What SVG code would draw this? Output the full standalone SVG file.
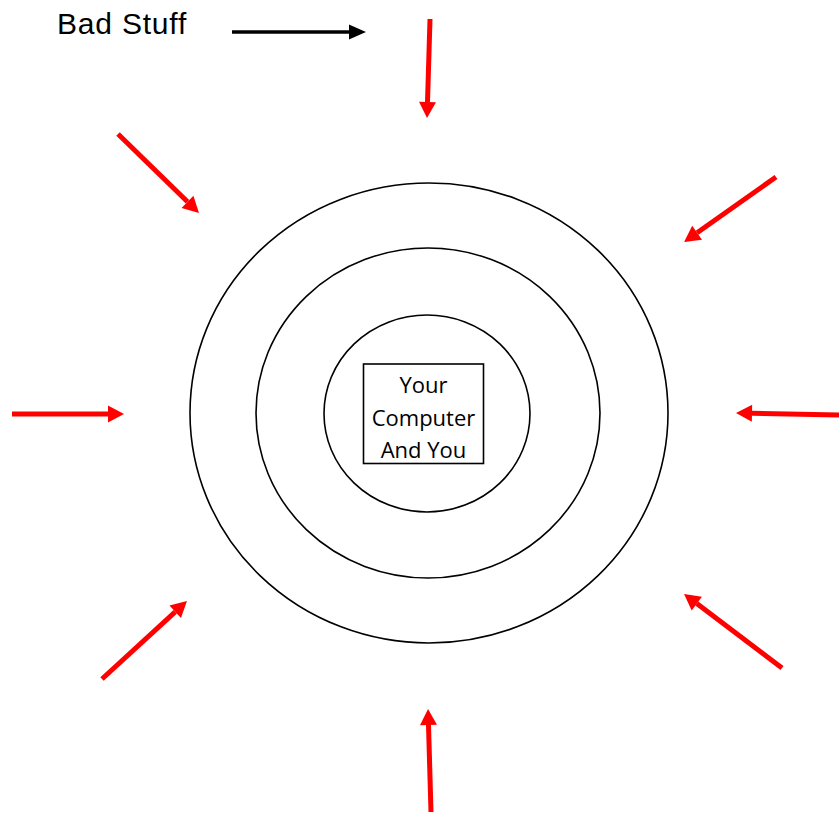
<svg xmlns="http://www.w3.org/2000/svg" width="839" height="813" viewBox="0 0 839 813">
<style>
.ring{fill:none;stroke:#000;stroke-width:1.6}
.red{stroke:#ff0000;stroke-width:5;fill:none;marker-end:url(#rh)}
.blk{stroke:#000;stroke-width:3.5;fill:none;marker-end:url(#bh)}
.lbl{font-family:"Open Sans","Noto Sans","Liberation Sans",sans-serif;font-size:22px;fill:#000;text-anchor:middle}
.title{font-family:"Liberation Sans",Arial,sans-serif;font-size:30px;letter-spacing:0.8px;fill:#000}
</style>
<defs>
<marker id="rh" markerUnits="userSpaceOnUse" markerWidth="16" markerHeight="17" refX="0" refY="8.5" orient="auto" overflow="visible"><path d="M0,0 L16,8.5 L0,17 z" fill="#ff0000"/></marker>
<marker id="bh" markerUnits="userSpaceOnUse" markerWidth="17" markerHeight="15" refX="0" refY="7.5" orient="auto" overflow="visible"><path d="M0,0 L17,7.5 L0,15 z" fill="#000"/></marker>
</defs>
<rect width="839" height="813" fill="#fff"/>
<g id="legend">
<text class="title" x="57" y="34">Bad Stuff</text>
<line class="blk" x1="232" y1="32" x2="349" y2="32"/>
</g>
<g id="outer-ring"><ellipse class="ring" cx="429" cy="413" rx="239" ry="230"/></g>
<g id="middle-ring"><ellipse class="ring" cx="428" cy="413" rx="172" ry="165"/></g>
<g id="inner-ring"><ellipse class="ring" cx="427" cy="413.5" rx="103" ry="98.5"/></g>
<g id="core">
<rect x="363.5" y="364" width="120" height="99.5" fill="#fff" stroke="#000" stroke-width="1.6"/>
<text class="lbl" x="423.5" y="393">Your</text>
<text class="lbl" x="423.5" y="426">Computer</text>
<text class="lbl" x="423.5" y="458">And You</text>
</g>
<g id="connectors">
<line class="red" x1="430" y1="19" x2="427.5" y2="102"/>
<line class="red" x1="118" y1="134" x2="187.5" y2="201.8"/>
<line class="red" x1="776" y1="177" x2="697.1" y2="232.8"/>
<line class="red" x1="12" y1="414" x2="108" y2="414"/>
<line class="red" x1="839" y1="415" x2="752" y2="413.3"/>
<line class="red" x1="102" y1="679" x2="175.2" y2="611.8"/>
<line class="red" x1="782" y1="668" x2="696.8" y2="603.6"/>
<line class="red" x1="431" y1="812" x2="428.5" y2="725"/>
</g>
</svg>
